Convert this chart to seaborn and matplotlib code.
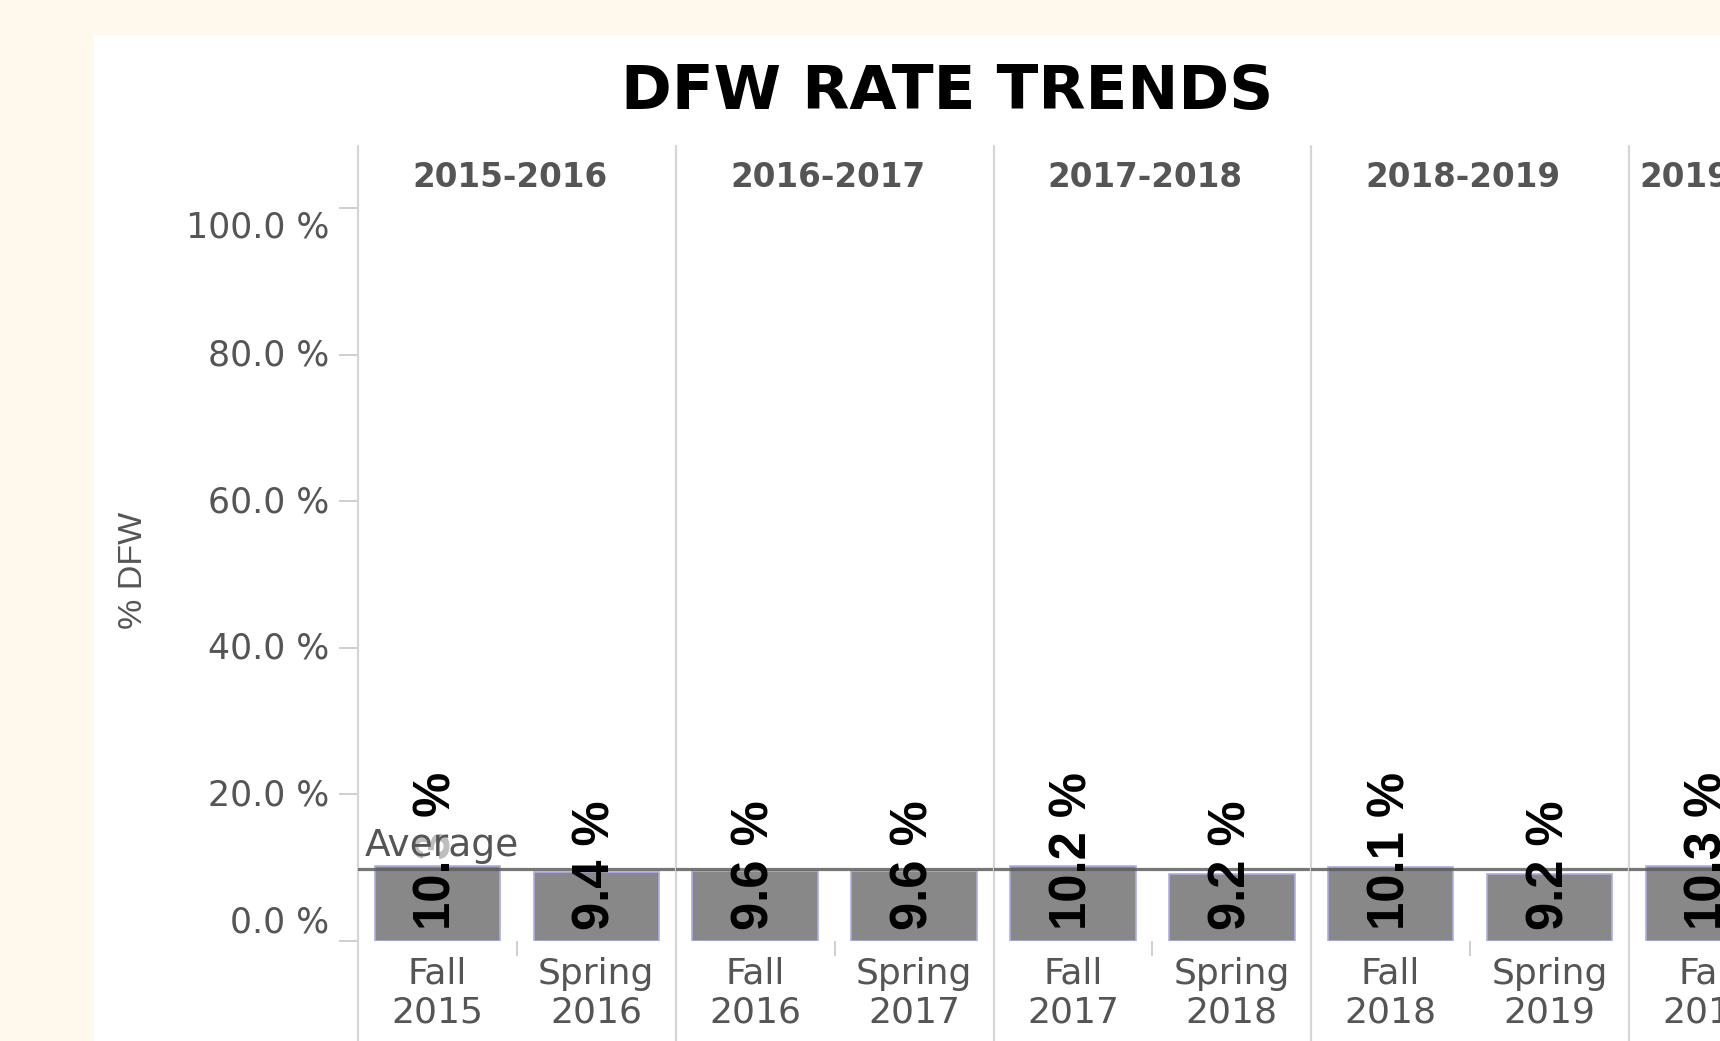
import numpy as np
import pandas as pd
import matplotlib
matplotlib.use("Agg")
import matplotlib.pyplot as plt
import matplotlib.transforms as mtransforms
from matplotlib.patches import Rectangle
import seaborn as sns

# ---------------- data ----------------
academic_years = ["2015-2016", "2016-2017", "2017-2018", "2018-2019", "2019-2020"]
terms = ["Fall 2015", "Spring 2016", "Fall 2016", "Spring 2017", "Fall 2017",
         "Spring 2018", "Fall 2018", "Spring 2019", "Fall 2019"]
term_year = ["2015-2016", "2015-2016", "2016-2017", "2016-2017", "2017-2018",
             "2017-2018", "2018-2019", "2018-2019", "2019-2020"]
dfw_rate = [10.3, 9.4, 9.6, 9.6, 10.2, 9.2, 10.1, 9.2, 10.3]
y_ticks = [0, 20, 40, 60, 80, 100]
y_tick_labels = ["0.0 %", "20.0 %", "40.0 %", "60.0 %", "80.0 %", "100.0 %"]

df = pd.DataFrame({"term": terms, "year": term_year, "dfw": dfw_rate})
avg = float(np.mean(dfw_rate))

# ---------------- style ----------------
sns.set_style("white")
plt.rcParams["font.family"] = ["DejaVu Sans"]
NARROW = ["Liberation Sans Narrow", "Liberation Sans", "DejaVu Sans"]

W, H = 1720, 1041
fig = plt.figure(figsize=(W / 100, H / 100), dpi=100, facecolor="#fef9ec")
fig.patches.append(Rectangle((94 / W, 0), 1, 1 - 35 / H, transform=fig.transFigure,
                             facecolor="white", edgecolor="none", zorder=-10))

GRAY_TXT = "#555555"
SEP = "#d6d6d6"
left0, facet_w = 358, 317.75
top_px, base_px = 146, 941
ymax = 108.5

axes = []
for i, yr in enumerate(academic_years):
    l = (left0 + i * facet_w) / W
    b = (H - base_px) / H
    h = (base_px - top_px) / H
    ax = fig.add_axes([l, b, facet_w / W, h])
    ax.set_facecolor("none")
    sub = df[df["year"] == yr]
    sns.barplot(data=sub, x="term", y="dfw", color="#888888", saturation=1,
                edgecolor="#aeaee6", linewidth=1.2, width=0.79, ax=ax, zorder=2)
    ax.set_xlim(-0.5, 1.5)
    ax.set_ylim(0, ymax)
    for s in ax.spines.values():
        s.set_visible(False)
    ax.axvline(-0.5, ymin=-(H - base_px) / (base_px - top_px), ymax=1,
               color=SEP, lw=1.6, clip_on=False, zorder=1)
    ax.axhline(avg, color="#5e5e5e", lw=2.3, alpha=0.85, zorder=3)
    # x tick labels
    ax.set_xticks(range(len(sub)))
    ax.set_xticklabels([t.replace(" ", "\n") for t in sub["term"]],
                       fontsize=26, color=GRAY_TXT, linespacing=1.17)
    ax.tick_params(axis="x", which="major", length=0, pad=11.5)
    if len(sub) > 1:
        ax.set_xticks([0.5], minor=True)
        ax.tick_params(axis="x", which="minor", bottom=True, length=11, width=1.3,
                       color="#cccccc", direction="out")
    ax.set_xlabel("")
    ax.set_ylabel("")
    # bar labels
    for j, v in enumerate(sub["dfw"]):
        ax.annotate(f"{v:.1f} %", xy=(j, 0), xytext=(0, 8), textcoords="offset points",
                    rotation=90, ha="center", va="bottom", fontsize=36.5,
                    fontweight="bold", family=NARROW, color="black", zorder=4)
    # facet header
    yt = 1 - 31 / (base_px - top_px)
    if i < len(academic_years) - 1:
        ax.text(0.5 - 7 / facet_w, yt, yr, transform=ax.transAxes,
                ha="center", va="center", fontsize=23.5, fontweight="bold", color=GRAY_TXT)
    else:
        ax.text(10 / facet_w, yt, yr, transform=ax.transAxes,
                ha="left", va="center", fontsize=23.5, fontweight="bold", color=GRAY_TXT)
    if i == 0:
        ax.set_yticks(y_ticks)
        ax.set_yticklabels(y_tick_labels, fontsize=25, color=GRAY_TXT)
        ax.tick_params(axis="y", left=True, length=14, width=1.3, color="#cccccc", pad=6.5)
        offs = {0: 16, 100: -11}
        for t, lab in zip(y_ticks, ax.get_yticklabels()):
            dy = offs.get(t, 2) / 72
            lab.set_transform(lab.get_transform() +
                              mtransforms.ScaledTranslation(0, dy, fig.dpi_scale_trans))
        ax.set_ylabel("% DFW", fontsize=24.5, color=GRAY_TXT, family=NARROW)
        ax.yaxis.set_label_coords((134 - left0) / facet_w, (base_px - 570) / (base_px - top_px))
        ax.yaxis.label.set_va("center")
        ax.annotate("Average", xy=(-0.5, avg), xytext=(5, 10), textcoords="offset points",
                    ha="left", va="baseline", fontsize=27, color=GRAY_TXT, zorder=6,
                    bbox=dict(boxstyle="square,pad=0", fc="white", ec="none", alpha=0.75))
    else:
        ax.set_yticks([])
    axes.append(ax)

fig.suptitle("DFW RATE TRENDS", x=947 / W, y=1 - 92 / H, va="center",
             fontsize=44, fontweight="bold", color="black")

fig.savefig("out.png", dpi=100, facecolor=fig.get_facecolor())
